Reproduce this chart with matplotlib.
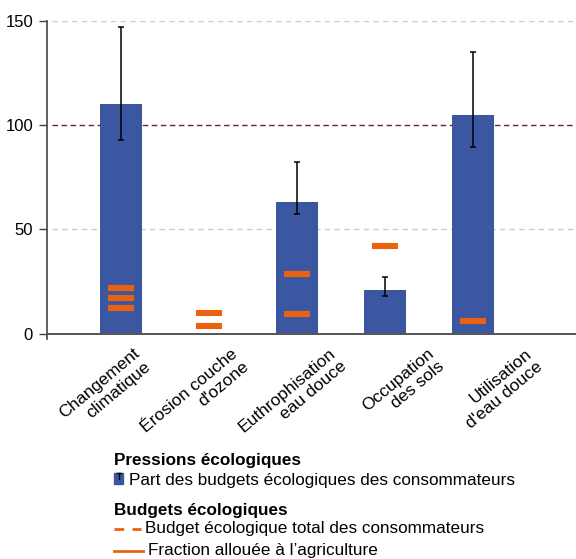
import numpy as np
import matplotlib.pyplot as plt
from matplotlib.lines import Line2D
from matplotlib.patches import Rectangle
from matplotlib.transforms import ScaledTranslation

plt.rcParams['font.family'] = ['Liberation Sans', 'DejaVu Sans']

# Data
categories = ["Changement\nclimatique", "Érosion couche\nd'ozone",
              "Euthrophisation\neau douce", "Occupation\ndes sols",
              "Utilisation\nd'eau douce"]
pressure = [110.0, np.nan, 63.1, 20.9, 104.8]
err_low = [92.6, np.nan, 57.3, 17.8, 89.6]
err_high = [147.0, np.nan, 82.3, 27.1, 135.2]
# agriculture budget marks (one or several per category)
agri_marks = [[21.8, 17.0, 12.2], [9.8, 3.7], [28.5, 9.4], [42.0], [6.0]]
yticks = [0, 50, 100, 150]

BLUE = '#3c57a2'
ORANGE = '#ea6210'
PURPLE = '#6a1e4e'
GREY = '#444444'

fig = plt.figure(figsize=(5.76, 5.59), dpi=100)
ax = fig.add_axes([0.0816, 0.3936, 0.9184, 0.5694])

x = np.arange(len(categories))
ax.bar(x, pressure, width=0.47, color=BLUE, zorder=2)

p = np.array(pressure)
yerr = np.vstack([p - np.array(err_low), np.array(err_high) - p])
ax.errorbar(x, p, yerr=yerr, fmt='none', ecolor='black', elinewidth=1.1,
            capsize=2, capthick=1.1, zorder=3)

for xi, marks in zip(x, agri_marks):
    ax.hlines(marks, xi - 0.15, xi + 0.15, colors=ORANGE, linewidth=4.4,
              zorder=4, capstyle='butt')

# grid and reference line
for yv in [50, 150]:
    ax.axhline(yv, xmin=0.01, color='#cccccc', linestyle=(0, (4, 3)),
               linewidth=1.0, zorder=1)
ax.axhline(100, xmin=0.01, color=PURPLE, linestyle=(0, (4, 2.5)),
           linewidth=1.0, zorder=1)
ax.axhline(0, color='#555555', linewidth=1.4, zorder=5)

ax.set_xlim(-0.84, 5.17)
ax.set_ylim(-2.6, 150)
ax.set_yticks(yticks)
ax.tick_params(axis='y', length=6, width=1, color=GREY, labelsize=12,
               pad=4)
ax.set_xticks(x)
ax.set_xticklabels(categories, rotation=40, ha='right', va='top',
                   rotation_mode='anchor', multialignment='right',
                   fontsize=12.5, linespacing=1.15)
ax.tick_params(axis='x', length=0, pad=5)
# the labels in the reference are spread a little wider than the bars
for i, lab in enumerate(ax.get_xticklabels()):
    shift = ScaledTranslation((12 + 10 * i) / 100, 0, fig.dpi_scale_trans)
    lab.set_transform(lab.get_transform() + shift)

for s in ['top', 'right', 'bottom']:
    ax.spines[s].set_visible(False)
ax.spines['left'].set_color(GREY)
ax.spines['left'].set_linewidth(1.2)

# legend drawn manually
W, H = 576, 559


def fx(px):
    return px / W


def fy(py):
    return 1 - py / H


FS = 12.3
fig.text(fx(114), fy(460), "Pressions écologiques", fontsize=FS,
         fontweight='bold', va='center', ha='left')
fig.patches.append(Rectangle((fx(114), fy(484)), fx(9), 11 / H,
                             transform=fig.transFigure, color=BLUE))
fig.lines.append(Line2D([fx(118.5), fx(118.5)], [fy(473), fy(479)],
                        transform=fig.transFigure, color='black', lw=1))
fig.lines.append(Line2D([fx(116.5), fx(120.5)], [fy(473), fy(473)],
                        transform=fig.transFigure, color='black', lw=1))
fig.text(fx(129), fy(480), "Part des budgets écologiques des consommateurs",
         fontsize=FS, va='center', ha='left')
fig.text(fx(114), fy(510), "Budgets écologiques", fontsize=FS,
         fontweight='bold', va='center', ha='left')
fig.lines.append(Line2D([fx(114), fx(141)], [fy(529), fy(529)],
                        transform=fig.transFigure, color=ORANGE, lw=2,
                        linestyle=(0, (3.5, 3))))
fig.text(fx(145), fy(529), "Budget écologique total des consommateurs",
         fontsize=FS, va='center', ha='left')
fig.lines.append(Line2D([fx(114), fx(143)], [fy(551), fy(551)],
                        transform=fig.transFigure, color=ORANGE, lw=2))
fig.text(fx(148), fy(550), "Fraction allouée à l’agriculture",
         fontsize=FS, va='center', ha='left')

fig.savefig('out.png', dpi=100)
